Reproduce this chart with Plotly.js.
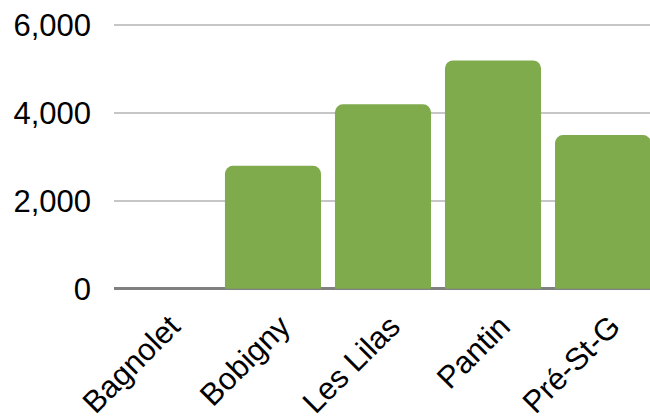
<!DOCTYPE html>
<html>
<head>
<meta charset="utf-8">
<script src="https://cdn.plot.ly/plotly-3.0.1.min.js"></script>
<style>html,body{margin:0;padding:0;background:#fff;}#chart{width:650px;height:416px;}</style>
</head>
<body>
<div id="chart"></div>
<script>
const communes = ["Bagnolet", "Bobigny", "Les Lilas", "Pantin", "Pré-St-G"];
const values = [0, 2800, 4200, 5200, 3500];
const yTickVals = [0, 2000, 4000, 6000];
const yTickText = ["0", "2,000", "4,000", "6,000"];

const trace = {
  type: "bar",
  x: communes,
  y: values,
  marker: { color: "#7FAB4D", cornerradius: 8 },
  hoverinfo: "x+y"
};

const layout = {
  width: 650,
  height: 416,
  margin: { l: 114, r: 0, t: 24, b: 125, pad: 0 },
  paper_bgcolor: "#ffffff",
  plot_bgcolor: "#ffffff",
  showlegend: false,
  bargap: 0.127,
  font: { family: "Liberation Sans, Arial, sans-serif", color: "#000000" },
  xaxis: {
    type: "category",
    range: [-0.445, 4.427],
    showgrid: false,
    showline: false,
    ticks: "",
    tickangle: -45,
    ticklabelstandoff: 10,
    ticklabelshift: 8,
    tickfont: { size: 31, color: "#000000" },
    fixedrange: true
  },
  yaxis: {
    range: [-52, 6030],
    tickvals: yTickVals,
    ticktext: yTickText,
    showgrid: true,
    gridcolor: "#C6C6C6",
    gridwidth: 2,
    zeroline: true,
    zerolinecolor: "#808080",
    zerolinewidth: 3,
    showline: false,
    ticks: "",
    ticklabelstandoff: 22,
    tickfont: { size: 31, color: "#000000" },
    fixedrange: true
  }
};

Plotly.newPlot("chart", [trace], layout, { staticPlot: true, displayModeBar: false });
</script>
</body>
</html>
